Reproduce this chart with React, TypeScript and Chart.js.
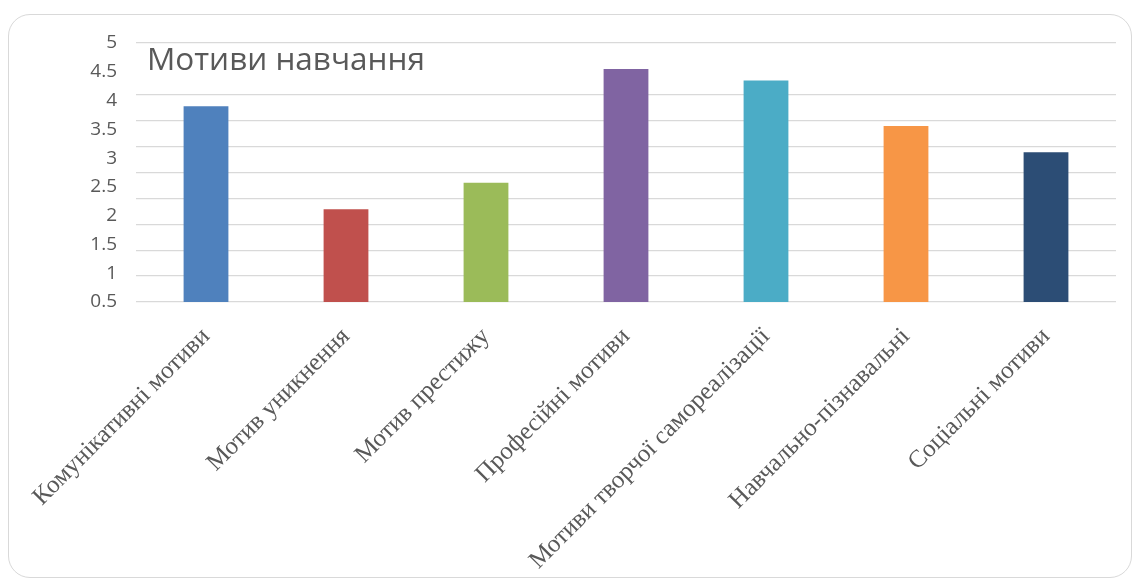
import React, { useEffect, useRef } from "react";
import { Chart, registerables } from "chart.js";

Chart.register(...registerables);

const categories: string[] = [
  "Комунікативні мотиви",
  "Мотив уникнення",
  "Мотив престижу",
  "Професійні мотиви",
  "Мотиви творчої самореалізації",
  "Навчально-пізнавальні",
  "Соціальні мотиви",
];
const values: number[] = [3.9, 2.11, 2.57, 4.55, 4.35, 3.56, 3.1];
const barColors: string[] = ["#4F81BD", "#C0504D", "#9BBB59", "#8064A2", "#4BACC6", "#F79646", "#2C4D75"];
const titleText = "Мотиви навчання";
const yMin = 0.5;
const yMax = 5;
const yStep = 0.5;
const gridMin = 0;
const hiddenGridIndex = 9;

const titlePlugin = {
  id: "overlayTitle",
  afterDraw(chart: any) {
    const { ctx, chartArea } = chart;
    ctx.save();
    ctx.font = '31.5px "Open Sans", "Liberation Sans", sans-serif';
    ctx.fillStyle = "#595959";
    ctx.textAlign = "left";
    ctx.textBaseline = "alphabetic";
    ctx.fillText(titleText, chartArea.left + 11, chartArea.top + 27);
    ctx.restore();
  },
};

export default function App() {
  const ref = useRef<HTMLCanvasElement | null>(null);
  useEffect(() => {
    if (!ref.current) return;
    const chart = new Chart(ref.current, {
      type: "bar",
      data: {
        labels: categories,
        datasets: [
          {
            data: values,
            backgroundColor: barColors,
            borderWidth: 0,
            barPercentage: 0.32,
            categoryPercentage: 1,
            yAxisID: "y",
          },
        ],
      },
      options: {
        responsive: false,
        animation: false,
        devicePixelRatio: 1,
        layout: { padding: { left: 0, right: 0, top: 43, bottom: 0 } },
        plugins: { legend: { display: false }, tooltip: { enabled: false }, title: { display: false } },
        scales: {
          x: {
            type: "category",
            grid: { display: false },
            border: { display: false },
            ticks: {
              minRotation: 45,
              maxRotation: 45,
              autoSkip: false,
              color: "#595959",
              padding: 12,
              font: { family: '"Liberation Serif", serif', size: 25 },
            },
            afterFit: (s: any) => {
              s.height = 283;
            },
          },
          y: {
            position: "left",
            min: yMin,
            max: yMax,
            grid: { display: false, drawTicks: false },
            border: { display: false },
            ticks: {
              stepSize: yStep,
              color: "#595959",
              padding: 19,
              font: { family: '"Open Sans", "Liberation Sans", sans-serif', size: 19 },
              callback: (v: any) => String(Number(v)),
            },
            afterFit: (s: any) => {
              s.width = 136;
            },
          },
          g: {
            position: "right",
            min: gridMin,
            max: yMax,
            border: { display: false },
            grid: {
              drawTicks: false,
              lineWidth: 1.3,
              color: (c: any) => (c.index === hiddenGridIndex ? "rgba(255,255,255,0)" : "#d9d9d9"),
            },
            ticks: { stepSize: yStep, display: false },
            afterFit: (s: any) => {
              s.width = 18;
            },
          },
        },
      },
      plugins: [titlePlugin],
    } as any);
    return () => chart.destroy();
  }, []);

  return (
    <div>
      <div
        style={{
          position: "absolute",
          left: 8,
          top: 14,
          width: 1124,
          height: 564,
          boxSizing: "border-box",
          border: "1.5px solid #d9d9d9",
          borderRadius: 22,
        }}
      />
      <canvas
        ref={ref}
        width={1134}
        height={585}
        style={{ position: "absolute", left: 0, top: 0, width: 1134, height: 585 }}
      />
    </div>
  );
}
